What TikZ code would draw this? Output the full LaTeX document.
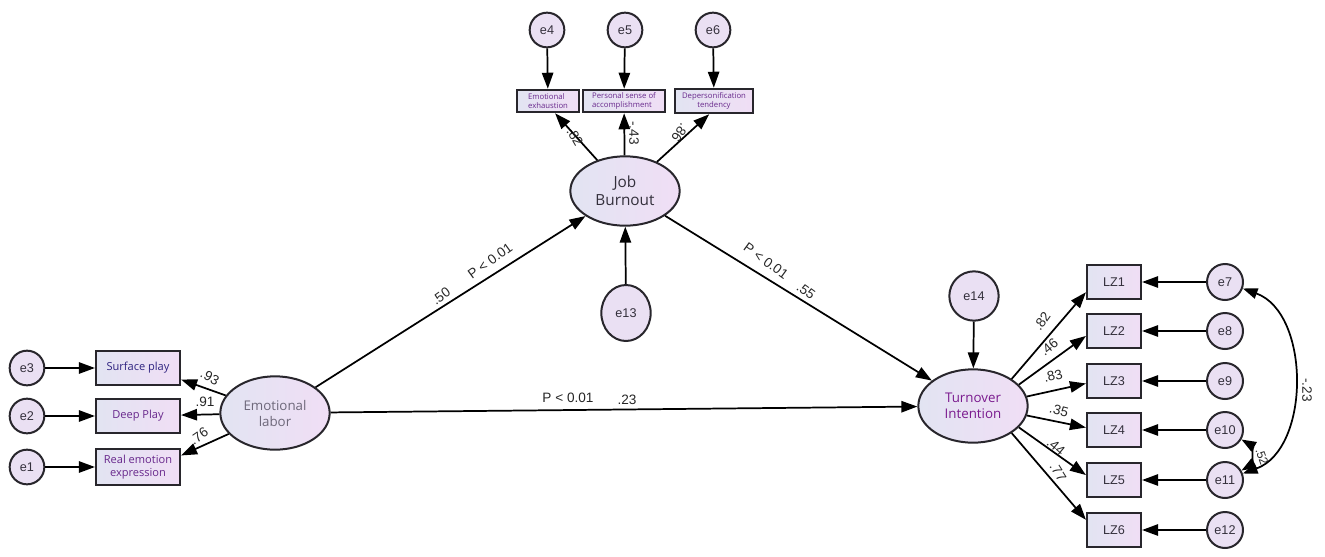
\documentclass[tikz,border=0pt]{standalone}
\usepackage{fontspec}
\setmainfont{Liberation Sans}
\newfontfamily\boxfont{Open Sans}
\usepackage{tikz}
\usetikzlibrary{shapes.geometric,arrows.meta}
\usepackage{xcolor}
\definecolor{fillL}{RGB}{226,228,242}
\definecolor{fillR}{RGB}{240,222,245}
\definecolor{errfill}{RGB}{234,224,243}
\definecolor{edge}{RGB}{40,38,44}
\definecolor{indigo}{RGB}{46,34,128}
\definecolor{plum}{RGB}{104,40,140}
\definecolor{greytxt}{RGB}{110,104,122}
\definecolor{tipurple}{RGB}{122,26,142}
\definecolor{darktxt}{RGB}{52,48,60}

\begin{document}
\begin{tikzpicture}[x=0.75pt,y=-0.75pt,
obs/.style={rectangle,draw=edge,line width=1.6pt,left color=fillL,right color=fillR,align=center,inner sep=1pt,font=\boxfont\fontsize{8.3}{9.8}\selectfont},
top/.style={obs,line width=1.4pt,minimum height=17pt,font=\boxfont\fontsize{5.8}{6.8}\selectfont,text=plum},
lz/.style={obs,minimum width=40.5pt,minimum height=26pt,font=\fontsize{9.5}{11}\selectfont,text=darktxt},
lat/.style={ellipse,draw=edge,line width=1.5pt,left color=fillL,right color=fillR,align=center,inner sep=0pt,minimum width=82pt,minimum height=54pt,font=\boxfont\fontsize{10}{12}\selectfont},
err/.style={circle,draw=edge,line width=1.5pt,fill=errfill,minimum size=26pt,inner sep=0pt,font=\fontsize{9.5}{11}\selectfont,text=darktxt},
arrow/.style={-{Triangle[length=12pt,width=8.5pt]},line width=1.3pt},
dbl/.style={{Triangle[length=11pt,width=8pt]}-{Triangle[length=11pt,width=8pt]},line width=1.3pt},
coef/.style={inner sep=0.3pt,font=\fontsize{10.2}{12}\selectfont,text=black!85}
]
\useasboundingbox (0,0) rectangle (1325,557);

\node[lat,minimum width=82pt,minimum height=55pt,text=greytxt] (el) at (275,413) {Emotional\\labor};
\node[lat,minimum height=52pt,font=\boxfont\fontsize{11.5}{13.5}\selectfont,text=darktxt] (jb) at (625,191) {Job\\Burnout};
\node[lat,minimum height=55pt,text=tipurple] (ti) at (973,406) {Turnover\\Intention};

\node[obs,minimum width=63pt,minimum height=25.5pt,text=indigo] (sp) at (138,368) {Surface play};
\node[obs,minimum width=63pt,minimum height=25.5pt,text=plum] (dp) at (138,416) {Deep Play};
\node[obs,minimum width=63pt,minimum height=27pt,text=plum] (re) at (138,467) {Real emotion\\expression};
\node[err] (e3) at (27,368) {e3};
\node[err] (e2) at (27,416) {e2};
\node[err] (e1) at (27,467) {e1};

\node[top,minimum width=46.5pt,align=left] (ee) at (548,101) {Emotional\\exhaustion};
\node[top,minimum width=61.5pt,align=left] (ps) at (624,101) {Personal sense of\\accomplishment};
\node[top,minimum width=58.5pt,minimum height=18.5pt] (dt) at (714,101) {Depersonification\\tendency};
\node[err] (e4) at (547,30) {e4};
\node[err] (e5) at (625,30) {e5};
\node[err] (e6) at (713,30) {e6};
\node[err,ellipse,minimum width=37pt,minimum height=42pt] (e13) at (626,313) {e13};
\node[err,minimum size=37pt] (e14) at (974,296) {e14};

\node[lz] (lz1) at (1114,282) {LZ1};
\node[lz] (lz2) at (1114,331) {LZ2};
\node[lz] (lz3) at (1114,381) {LZ3};
\node[lz] (lz4) at (1114,430) {LZ4};
\node[lz] (lz5) at (1114,480) {LZ5};
\node[lz] (lz6) at (1114,530) {LZ6};
\node[err,minimum size=27pt] (e7) at (1225,282) {e7};
\node[err,minimum size=27pt] (e8) at (1225,331) {e8};
\node[err,minimum size=27pt] (e9) at (1225,381) {e9};
\node[err,minimum size=27pt] (e10) at (1225,430) {e10};
\node[err,minimum size=27pt] (e11) at (1225,480) {e11};
\node[err,minimum size=27pt] (e12) at (1225,530) {e12};

\draw[arrow] (e3)--(sp);
\draw[arrow] (e2)--(dp);
\draw[arrow] (e1)--(re);
\draw[arrow] (el)--(sp.-15);
\draw[arrow] (el)--(dp);
\draw[arrow] (el)--(re.15);
\draw[arrow] (e4)--(ee);
\draw[arrow] (e5)--(ps);
\draw[arrow] (e6)--(dt);
\draw[arrow] (jb)--(ee.-60);
\draw[arrow] (jb)--(ps);
\draw[arrow] (jb)--(dt.-110);
\draw[arrow] (e13)--(jb);
\draw[arrow] (e14)--(ti);
\draw[arrow] (el)--(jb);
\draw[arrow] (jb)--(ti);
\draw[arrow] (el)--(ti);
\draw[arrow] (ti.35)--(lz1.200);
\draw[arrow] (ti.25)--(lz2.190);
\draw[arrow] (ti.10)--(lz3.185);
\draw[arrow] (ti.-10)--(lz4.175);
\draw[arrow] (ti.-25)--(lz5.170);
\draw[arrow] (ti.-35)--(lz6.160);
\draw[arrow] (e7)--(lz1);
\draw[arrow] (e8)--(lz2);
\draw[arrow] (e9)--(lz3);
\draw[arrow] (e10)--(lz4);
\draw[arrow] (e11)--(lz5);
\draw[arrow] (e12)--(lz6);
\draw[dbl] (e7) to[bend left=70,looseness=1.0] (e11);
\draw[dbl] (e10) to[bend left=60] (e11);

\node[coef,rotate=-28] (c93) at (210,377) {.93};
\node[coef] (c91) at (205,402) {.91};
\node[coef,rotate=35] (c76) at (199,436) {.76};
\node[coef,rotate=-60] (c82a) at (575,137) {.82};
\node[coef,rotate=-90] (c43) at (634,133) {-.43};
\node[coef,rotate=235] (c86) at (680,133) {.86};
\node[coef,rotate=36] (c50) at (441,296) {.50};
\node[coef,rotate=36] (p1) at (490,261) {P < 0.01};
\node[coef,rotate=-36] (p2) at (766,261) {P < 0.01};
\node[coef,rotate=-36] (c55) at (806,291) {.55};
\node[coef] (p3) at (568,398) {P < 0.01};
\node[coef] (c23) at (627,400) {.23};
\node[coef,rotate=55] (c82b) at (1042,321) {.82};
\node[coef,rotate=40] (c46) at (1049,347) {.46};
\node[coef,rotate=15] (c83) at (1053,376) {.83};
\node[coef,rotate=-15] (c35) at (1059,410) {.35};
\node[coef,rotate=-40] (c44) at (1056,447) {.44};
\node[coef,rotate=-58] (c77) at (1058,472) {.77};
\node[coef,rotate=-90] (cm23) at (1307,390) {-.23};
\node[coef,rotate=-70,font=\fontsize{9}{10}\selectfont] (c52) at (1262,457) {.52};
\end{tikzpicture}
\end{document}
